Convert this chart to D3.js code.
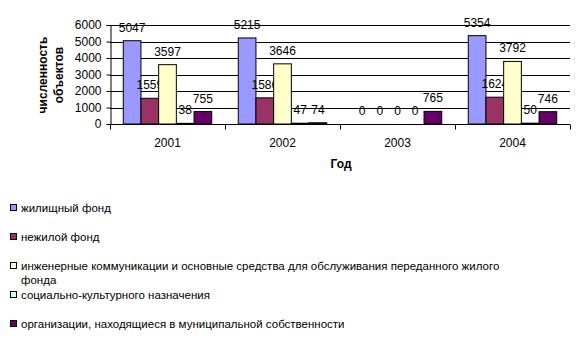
<!DOCTYPE html>
<html><head><meta charset="utf-8">
<script src="https://cdn.jsdelivr.net/npm/d3@7"></script>
<style>
body{margin:0;background:#fff;}
svg{display:block;font-family:Arial,"Liberation Sans",sans-serif;}
</style></head>
<body><svg id="c" width="586" height="356"></svg>
<script>
const years = ["2001","2002","2003","2004"];
const seriesNames = [
  "жилищный фонд",
  "нежилой фонд",
  "инженерные коммуникации и основные средства для обслуживания переданного жилого фонда",
  "социально-культурного назначения",
  "организации, находящиеся в муниципальной собственности"
];
const housing   = [5047, 5215, 0, 5354];
const nonres    = [1559, 1586, 0, 1624];
const engineer  = [3597, 3646, 0, 3792];
const social    = [38, 47, 0, 50];
const municipal = [755, 74, 765, 746];
const yTicks = [0,1000,2000,3000,4000,5000,6000];
const colors = ["#9999FF","#993366","#FFFFCC","#CCFFFF","#660066"];

const series = [housing, nonres, engineer, social, municipal];
const svg = d3.select("#c");

const y = d3.scaleLinear().domain([0,6000]).range([124,25]);
const x0 = d3.scaleBand().domain(years).range([110,570]).paddingInner(0).paddingOuter(0);
const x1 = d3.scaleBand().domain(d3.range(5)).range([0,x0.bandwidth()]).paddingInner(0).paddingOuter(0.75);

// gridlines
svg.append("g").selectAll("line").data(yTicks.filter(d=>d>0)).join("line")
  .attr("x1",110).attr("x2",570).attr("y1",d=>Math.round(y(d))+0.5).attr("y2",d=>Math.round(y(d))+0.5)
  .attr("stroke","#000").attr("stroke-width",1);

// bars
const groups = svg.append("g").selectAll("g").data(years).join("g")
  .attr("transform",d=>`translate(${x0(d)},0)`);
groups.each(function(yr,i){
  const g = d3.select(this);
  series.forEach((s,k)=>{
    const v = s[i];
    if(v>0){
      g.append("rect").attr("x",x1(k)).attr("width",x1.bandwidth())
        .attr("y",y(v)).attr("height",y(0)-y(v))
        .attr("fill",colors[k]).attr("stroke","#000").attr("stroke-width",1);
    }
    g.append("text").attr("x",x1(k)+x1.bandwidth()/2).attr("y",y(v)-9)
      .attr("text-anchor","middle").attr("font-size",12).text(v);
  });
});

// y axis
const yAxis = d3.axisLeft(y).tickValues(yTicks).tickSize(4).tickPadding(5).tickFormat(d3.format("d"));
svg.append("g").attr("transform","translate(110.5,0)").call(yAxis)
  .call(g=>{g.select(".domain").attr("stroke","#000");g.selectAll("text").attr("font-size",12).attr("font-family","Arial, Liberation Sans, sans-serif").attr("fill","#000");g.selectAll(".tick line").attr("stroke","#000");});

// x axis
const xAxis = d3.axisBottom(x0).tickSize(0).tickPadding(14);
const xg = svg.append("g").attr("transform","translate(0,124.5)").call(xAxis);
xg.select(".domain").attr("stroke","#000").attr("d","M110,0H570");
xg.selectAll("text").attr("font-size",12).attr("font-family","Arial, Liberation Sans, sans-serif").attr("fill","#000");
xg.append("g").selectAll("line").data([...years.map(d=>x0(d)), 570]).join("line")
  .attr("x1",d=>Math.round(d)+0.5).attr("x2",d=>Math.round(d)+0.5).attr("y1",0).attr("y2",5).attr("stroke","#000");

// titles
svg.append("text").attr("x",341).attr("y",168).attr("text-anchor","middle")
  .attr("font-size",12).attr("font-weight","bold").text("Год");
const yt = svg.append("text").attr("transform","translate(47,75) rotate(-90)")
  .attr("text-anchor","middle").attr("font-size",12).attr("font-weight","bold");
yt.append("tspan").attr("x",0).attr("dy",0).text("численность");
yt.append("tspan").attr("x",0).attr("dy",16).text("объектов");

// legend
const legY = [208,237,266,295,324];
const lg = svg.append("g").attr("font-size",11.5);
seriesNames.forEach((n,k)=>{
  lg.append("rect").attr("x",10.5).attr("y",legY[k]-3.5).attr("width",6).attr("height",6)
    .attr("fill",colors[k]).attr("stroke","#000");
  if(k===2){
    const t = lg.append("text").attr("x",21).attr("y",legY[k]+4);
    t.append("tspan").attr("x",21).text("инженерные коммуникации и основные средства для обслуживания переданного жилого");
    t.append("tspan").attr("x",21).attr("dy",14).text("фонда");
  } else {
    lg.append("text").attr("x",21).attr("y",legY[k]+4).text(n);
  }
});
</script></body></html>
